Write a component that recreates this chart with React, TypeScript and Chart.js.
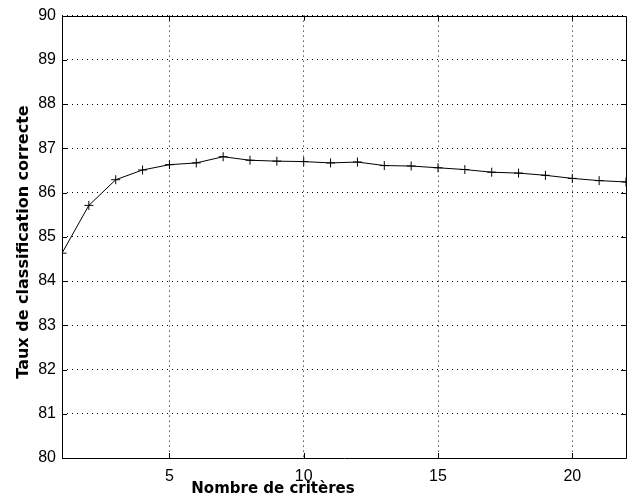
import React, { useEffect, useRef } from "react";
import { Chart, registerables } from "chart.js";

Chart.register(...registerables);

const criteres = [1, 2, 3, 4, 5, 6, 7, 8, 9, 10, 11, 12, 13, 14, 15, 16, 17, 18, 19, 20, 21, 22];
const taux = [84.63, 85.71, 86.29, 86.51, 86.63, 86.67, 86.81, 86.73, 86.71, 86.70, 86.67, 86.69, 86.61, 86.60, 86.56, 86.52, 86.46, 86.44, 86.39, 86.32, 86.27, 86.24];
const xTicks = [5, 10, 15, 20];
const yMin = 80;
const yMax = 90;
const xTitle = "Nombre de critères";
const yTitle = "Taux de classification correcte";

const boxPlugin = {
  id: "box",
  afterDraw(chart: any) {
    const { ctx, chartArea } = chart;
    const { left, right, top, bottom } = chartArea;
    const xs = chart.scales.x;
    const ys = chart.scales.y;
    ctx.save();
    ctx.strokeStyle = "#000";
    ctx.lineWidth = 1;
    ctx.beginPath();
    ctx.rect(Math.round(left) + 0.5, Math.round(top) + 0.5, Math.round(right - left), Math.round(bottom - top));
    ctx.stroke();
    ctx.beginPath();
    const len = 5;
    xTicks.forEach((v) => {
      const px = Math.round(xs.getPixelForValue(v)) + 0.5;
      ctx.moveTo(px, bottom);
      ctx.lineTo(px, bottom - len);
      ctx.moveTo(px, top);
      ctx.lineTo(px, top + len);
    });
    for (let v = yMin; v <= yMax; v++) {
      const py = Math.round(ys.getPixelForValue(v)) + 0.5;
      ctx.moveTo(left, py);
      ctx.lineTo(left + len, py);
      ctx.moveTo(right, py);
      ctx.lineTo(right - len, py);
    }
    ctx.stroke();
    ctx.fillStyle = "#000";
    ctx.textAlign = "center";
    ctx.textBaseline = "middle";
    // x axis title, centred on the figure as in the reference
    ctx.font = "bold 15px 'DejaVu Sans'";
    ctx.fillText(xTitle, 273, 489);
    // y axis title
    ctx.font = "bold 16px 'DejaVu Sans'";
    ctx.translate(24, 242);
    ctx.rotate(-Math.PI / 2);
    ctx.fillText(yTitle, 0, 0);
    ctx.restore();
  },
};

export default function App() {
  const ref = useRef<HTMLCanvasElement>(null);
  useEffect(() => {
    document.body.style.margin = "0";
    const chart = new Chart(ref.current!, {
      type: "line",
      data: {
        datasets: [
          {
            data: criteres.map((c, i) => ({ x: c, y: taux[i] })),
            borderColor: "#000",
            borderWidth: 1,
            pointStyle: "cross",
            pointRadius: 4.5,
            pointBorderColor: "#000",
            pointBorderWidth: 1,
            fill: false,
            tension: 0,
          },
        ],
      },
      options: {
        animation: false,
        responsive: false,
        layout: { padding: { left: 0, right: 7, top: 15, bottom: 0 } },
        plugins: { legend: { display: false }, tooltip: { enabled: false } },
        scales: {
          x: {
            type: "linear",
            min: 1,
            max: 22,
            afterBuildTicks: (s: any) => {
              s.ticks = xTicks.map((v) => ({ value: v }));
            },
            afterFit: (s: any) => {
              s.height = 41;
            },
            grid: { color: "#000", lineWidth: 1, drawTicks: false } as any,
            border: { display: false, dash: [1, 4] },
            ticks: { color: "#000", font: { family: "Liberation Sans", size: 16 }, padding: 9, maxRotation: 0 },
            title: { display: false, text: xTitle },
          },
          y: {
            type: "linear",
            min: yMin,
            max: yMax,
            afterFit: (s: any) => {
              s.width = 62;
            },
            grid: { color: "#000", lineWidth: 1, drawTicks: false } as any,
            border: { display: false, dash: [1, 4] },
            ticks: { stepSize: 1, color: "#000", font: { family: "Liberation Sans", size: 16 }, padding: 6 },
            title: { display: false, text: yTitle },
          },
        },
      },
      plugins: [boxPlugin],
    });
    return () => chart.destroy();
  }, []);
  return <canvas ref={ref} width={633} height={499} style={{ display: "block" }} />;
}
